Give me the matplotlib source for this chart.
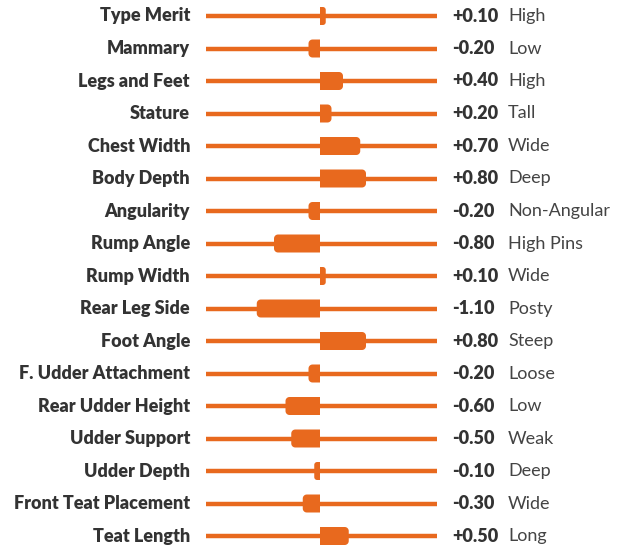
import matplotlib
matplotlib.use('Agg')
import numpy as np
import matplotlib.pyplot as plt
from matplotlib.patches import Polygon

# trait data
traits = ['Type Merit', 'Mammary', 'Legs and Feet', 'Stature', 'Chest Width',
          'Body Depth', 'Angularity', 'Rump Angle', 'Rump Width', 'Rear Leg Side',
          'Foot Angle', 'F. Udder Attachment', 'Rear Udder Height', 'Udder Support',
          'Udder Depth', 'Front Teat Placement', 'Teat Length']
values = [0.10, -0.20, 0.40, 0.20, 0.70, 0.80, -0.20, -0.80, 0.10, -1.10,
          0.80, -0.20, -0.60, -0.50, -0.10, -0.30, 0.50]
descr = ['High', 'Low', 'High', 'Tall', 'Wide', 'Deep', 'Non-Angular', 'High Pins',
         'Wide', 'Posty', 'Steep', 'Loose', 'Low', 'Weak', 'Deep', 'Wide', 'Long']

orange = '#E8691E'
W, H = 622, 552
pxu = 57.5      # pixels per unit
row = 32.5      # pixels per row
x0 = 320        # zero position in pixels
y0 = 16         # first row in pixels

fig = plt.figure(figsize=(W / 100, H / 100), dpi=100)
ax = fig.add_axes([0, 0, 1, 1])
ax.set_xlim(-x0 / pxu, (W - x0) / pxu)
ax.set_ylim((H - y0) / row, -y0 / row)
ax.axis('off')

lo, hi = (206 - x0) / pxu, (437 - x0) / pxu


def bar_shape(v, i):
    # bar with square end at zero and rounded outer end (radius in pixels)
    s = 1 if v >= 0 else -1
    w = abs(v) * pxu
    r = min(4.0, w / 2)
    t = np.linspace(0, np.pi / 2, 8)
    top = [(w - r + r * np.sin(a), -9 + r - r * np.cos(a)) for a in t]
    bot = [(w - r + r * np.cos(a), 9 - r + r * np.sin(a)) for a in t]
    pts = [(0, -9)] + top + bot + [(0, 9)]
    return [(s * px / pxu, i + py / row) for px, py in pts]


for i, (t, v, d) in enumerate(zip(traits, values, descr)):
    ax.plot([lo, hi], [i, i], color=orange, lw=3.2, solid_capstyle='butt', zorder=1)
    ax.add_patch(Polygon(bar_shape(v, i), closed=True, fc=orange, ec='none', zorder=2))
    ax.text((190 - x0) / pxu, i, t, ha='right', va='center', fontsize=13,
            fontweight='heavy', color='#333333', family='Lato')
    ax.text((452 - x0) / pxu, i, '%+.2f' % v, ha='left', va='center', fontsize=13,
            fontweight='heavy', color='#333333', family='Lato')
    ax.text((508 - x0) / pxu, i, d, ha='left', va='center', fontsize=13,
            color='#444444', family='Lato')

fig.savefig('out.png', dpi=100)
